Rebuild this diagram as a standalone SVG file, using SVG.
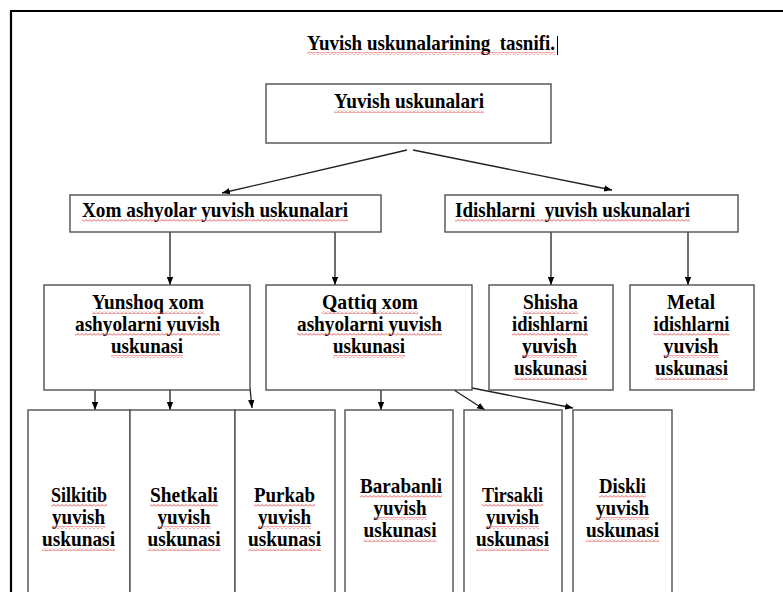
<svg xmlns="http://www.w3.org/2000/svg" width="783" height="592" viewBox="0 0 783 592">
<defs>
<style>
.bx{fill:#fff;stroke:#505050;stroke-width:1.4}
.t{font-family:"Liberation Serif","Times New Roman",serif;font-weight:bold;font-size:21px;fill:#000;text-anchor:middle}
.cn{stroke:#202020;stroke-width:1.3;fill:none;marker-end:url(#ah)}
.ul{fill:url(#wavy)}
</style>
<pattern id="wavy" width="4" height="3" patternUnits="userSpaceOnUse">
<path d="M0,2.5 L2,0.5 L4,2.5" stroke="#e85050" stroke-width="1" fill="none"/>
</pattern>
<marker id="ah" viewBox="0 0 10 8" refX="10" refY="4" markerWidth="8" markerHeight="7" markerUnits="userSpaceOnUse" orient="auto">
<path d="M0,0 L10,4 L0,8 Z" fill="#000"/>
</marker>
</defs>
<rect width="783" height="592" fill="#fff"/>
<path d="M11,592 V11 H783" stroke="#000" stroke-width="2.2" fill="none"/>

<g id="title">
<text class="t" x="431" y="50" textLength="248" lengthAdjust="spacingAndGlyphs">Yuvish uskunalarining&#160; tasnifi.</text>
<rect class="ul" x="307" y="52" width="248" height="3"/>
<line x1="557.5" y1="36" x2="557.5" y2="55" stroke="#000" stroke-width="1"/>
</g>

<g id="connectors">
<line class="cn" x1="407" y1="150" x2="222" y2="193"/>
<line class="cn" x1="413" y1="150" x2="612" y2="190"/>
<line class="cn" x1="170" y1="232" x2="170" y2="285"/>
<line class="cn" x1="335" y1="232" x2="335" y2="285"/>
<line class="cn" x1="551" y1="232" x2="551" y2="285"/>
<line class="cn" x1="688" y1="232" x2="688" y2="285"/>
<line class="cn" x1="95" y1="390" x2="95" y2="410"/>
<line class="cn" x1="170" y1="390" x2="170" y2="410"/>
<line class="cn" x1="250" y1="388" x2="252" y2="408"/>
<line class="cn" x1="381" y1="390" x2="381" y2="410"/>
<line class="cn" x1="454" y1="390" x2="485" y2="410"/>
<line class="cn" x1="472" y1="388" x2="573" y2="408"/>
</g>

<g id="root">
<rect class="bx" x="266" y="84" width="285" height="59"/>
<text class="t" x="409" y="108" textLength="150" lengthAdjust="spacingAndGlyphs">Yuvish uskunalari</text>
<rect class="ul" x="334" y="110" width="150" height="3"/>
</g>

<g id="xom">
<rect class="bx" x="70" y="195" width="311" height="37"/>
<text class="t" x="215" y="217" textLength="266" lengthAdjust="spacingAndGlyphs">Xom ashyolar yuvish uskunalari</text>
<rect class="ul" x="82" y="219" width="266" height="3"/>
</g>

<g id="idish">
<rect class="bx" x="445" y="195" width="293" height="37"/>
<text class="t" x="572.5" y="217" textLength="235" lengthAdjust="spacingAndGlyphs">Idishlarni&#160; yuvish uskunalari</text>
<rect class="ul" x="455" y="219" width="235" height="3"/>
</g>

<g id="yunshoq">
<rect class="bx" x="44" y="285" width="206" height="105"/>
<text class="t" x="148" y="309" textLength="112" lengthAdjust="spacingAndGlyphs">Yunshoq xom</text>
<rect class="ul" x="92" y="311" width="112" height="3"/>
<text class="t" x="147.5" y="331" textLength="145" lengthAdjust="spacingAndGlyphs">ashyolarni yuvish</text>
<rect class="ul" x="75" y="333" width="145" height="3"/>
<text class="t" x="147" y="353" textLength="72" lengthAdjust="spacingAndGlyphs">uskunasi</text>
<rect class="ul" x="111" y="355" width="72" height="3"/>
</g>

<g id="qattiq">
<rect class="bx" x="266" y="285" width="206" height="105"/>
<text class="t" x="370" y="309" textLength="96" lengthAdjust="spacingAndGlyphs">Qattiq xom</text>
<rect class="ul" x="322" y="311" width="96" height="3"/>
<text class="t" x="369.5" y="331" textLength="145" lengthAdjust="spacingAndGlyphs">ashyolarni yuvish</text>
<rect class="ul" x="297" y="333" width="145" height="3"/>
<text class="t" x="369" y="353" textLength="72" lengthAdjust="spacingAndGlyphs">uskunasi</text>
<rect class="ul" x="333" y="355" width="72" height="3"/>
</g>

<g id="shisha">
<rect class="bx" x="489" y="285" width="124" height="105"/>
<text class="t" x="550.5" y="309" textLength="55" lengthAdjust="spacingAndGlyphs">Shisha</text>
<rect class="ul" x="523" y="311" width="55" height="3"/>
<text class="t" x="550" y="331" textLength="76" lengthAdjust="spacingAndGlyphs">idishlarni</text>
<rect class="ul" x="512" y="333" width="76" height="3"/>
<text class="t" x="549.5" y="353" textLength="55" lengthAdjust="spacingAndGlyphs">yuvish</text>
<rect class="ul" x="522" y="355" width="55" height="3"/>
<text class="t" x="550.5" y="375" textLength="73" lengthAdjust="spacingAndGlyphs">uskunasi</text>
<rect class="ul" x="514" y="377" width="73" height="3"/>
</g>

<g id="metal">
<rect class="bx" x="630" y="285" width="124" height="105"/>
<text class="t" x="691" y="309" textLength="48" lengthAdjust="spacingAndGlyphs">Metal</text>
<text class="t" x="691.5" y="331" textLength="76" lengthAdjust="spacingAndGlyphs">idishlarni</text>
<rect class="ul" x="653.5" y="333" width="76" height="3"/>
<text class="t" x="691" y="353" textLength="55" lengthAdjust="spacingAndGlyphs">yuvish</text>
<rect class="ul" x="663.5" y="355" width="55" height="3"/>
<text class="t" x="691.5" y="375" textLength="73" lengthAdjust="spacingAndGlyphs">uskunasi</text>
<rect class="ul" x="655" y="377" width="73" height="3"/>
</g>

<g id="silkitib">
<rect class="bx" x="28" y="410" width="102" height="200"/>
<text class="t" x="79" y="502" textLength="56" lengthAdjust="spacingAndGlyphs">Silkitib</text>
<rect class="ul" x="51" y="504" width="56" height="3"/>
<text class="t" x="78.5" y="524" textLength="53" lengthAdjust="spacingAndGlyphs">yuvish</text>
<rect class="ul" x="52" y="526" width="53" height="3"/>
<text class="t" x="78.5" y="546" textLength="73" lengthAdjust="spacingAndGlyphs">uskunasi</text>
<rect class="ul" x="42" y="548" width="73" height="3"/>
</g>

<g id="shetkali">
<rect class="bx" x="130" y="410" width="105" height="200"/>
<text class="t" x="184" y="502" textLength="68" lengthAdjust="spacingAndGlyphs">Shetkali</text>
<rect class="ul" x="150" y="504" width="68" height="3"/>
<text class="t" x="184" y="524" textLength="53" lengthAdjust="spacingAndGlyphs">yuvish</text>
<rect class="ul" x="157.5" y="526" width="53" height="3"/>
<text class="t" x="184" y="546" textLength="73" lengthAdjust="spacingAndGlyphs">uskunasi</text>
<rect class="ul" x="147.5" y="548" width="73" height="3"/>
</g>

<g id="purkab">
<rect class="bx" x="235" y="410" width="100" height="200"/>
<text class="t" x="284.5" y="502" textLength="61" lengthAdjust="spacingAndGlyphs">Purkab</text>
<rect class="ul" x="254" y="504" width="61" height="3"/>
<text class="t" x="284.5" y="524" textLength="53" lengthAdjust="spacingAndGlyphs">yuvish</text>
<rect class="ul" x="258" y="526" width="53" height="3"/>
<text class="t" x="284.5" y="546" textLength="73" lengthAdjust="spacingAndGlyphs">uskunasi</text>
<rect class="ul" x="248" y="548" width="73" height="3"/>
</g>

<g id="barabanli">
<rect class="bx" x="345" y="410" width="108" height="200"/>
<text class="t" x="401" y="493" textLength="82" lengthAdjust="spacingAndGlyphs">Barabanli</text>
<rect class="ul" x="360" y="495" width="82" height="3"/>
<text class="t" x="400" y="515" textLength="53" lengthAdjust="spacingAndGlyphs">yuvish</text>
<rect class="ul" x="373.5" y="517" width="53" height="3"/>
<text class="t" x="400" y="537" textLength="73" lengthAdjust="spacingAndGlyphs">uskunasi</text>
<rect class="ul" x="363.5" y="539" width="73" height="3"/>
</g>

<g id="tirsakli">
<rect class="bx" x="464" y="410" width="98" height="200"/>
<text class="t" x="512.5" y="502" textLength="61" lengthAdjust="spacingAndGlyphs">Tirsakli</text>
<rect class="ul" x="482" y="504" width="61" height="3"/>
<text class="t" x="512.5" y="524" textLength="53" lengthAdjust="spacingAndGlyphs">yuvish</text>
<rect class="ul" x="486" y="526" width="53" height="3"/>
<text class="t" x="512.5" y="546" textLength="73" lengthAdjust="spacingAndGlyphs">uskunasi</text>
<rect class="ul" x="476" y="548" width="73" height="3"/>
</g>

<g id="diskli">
<rect class="bx" x="573" y="410" width="99" height="200"/>
<text class="t" x="622.5" y="493" textLength="47" lengthAdjust="spacingAndGlyphs">Diskli</text>
<rect class="ul" x="599" y="495" width="47" height="3"/>
<text class="t" x="622.5" y="515" textLength="53" lengthAdjust="spacingAndGlyphs">yuvish</text>
<rect class="ul" x="596" y="517" width="53" height="3"/>
<text class="t" x="622.5" y="537" textLength="73" lengthAdjust="spacingAndGlyphs">uskunasi</text>
<rect class="ul" x="586" y="539" width="73" height="3"/>
</g>
</svg>
